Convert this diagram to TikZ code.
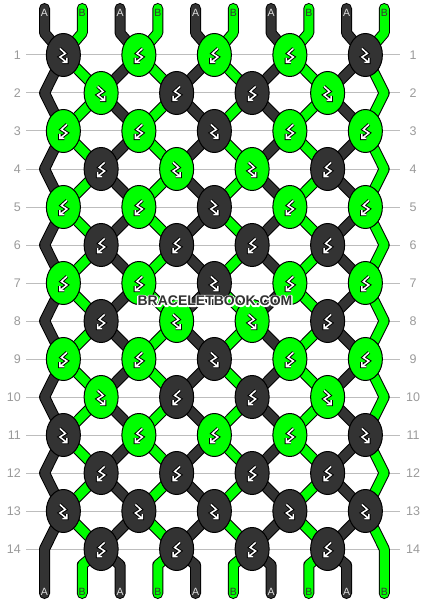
\documentclass[tikz,border=0pt]{standalone}
\usepackage{fontspec}
\setmainfont{Liberation Sans}
\usetikzlibrary{shapes.geometric}

\definecolor{strA}{HTML}{333333}
\definecolor{strB}{HTML}{00FF00}
\definecolor{rowgray}{HTML}{9A9A9A}
\definecolor{linegray}{HTML}{BDBDBD}

\pgfdeclarelayer{grid}
\pgfdeclarelayer{strands}
\pgfsetlayers{grid,strands,main}

% white outline behind a text
\newcommand{\haloed}[1]{\rlap{\special{pdf:code q 1 1 1 RG 2.6 w 1 j 1 Tr}#1\special{pdf:code Q}}#1}

\tikzset{
  knot/.style={ellipse, draw=black, line width=1pt, minimum width=34pt, minimum height=43pt, inner sep=0pt},
  knotA/.style={knot, fill=strA},
  knotB/.style={knot, fill=strB},
  strand/.style={line width=1pt, draw=black, double distance=9pt, line cap=round, line join=round},
  strandA/.style={strand, double=strA},
  strandB/.style={strand, double=strB},
  rowline/.style={draw=linegray, line width=1pt},
  rowlabel/.style={text=rowgray, font=\fontsize{12.5}{13}\selectfont, inner sep=0pt},
  endlabel/.style={font=\fontsize{10.5}{11}\selectfont, inner sep=0pt},
  endA/.style={endlabel, text=white!88!black},
  endB/.style={endlabel, text=strA},
  glyphout/.style={line width=3.4pt, draw=black, line cap=square, line join=miter},
  glyphin/.style={line width=1.5pt, draw=white, line cap=butt, line join=miter},
  fb/.pic={
    \foreach \s in {glyphout,glyphin}
      \draw[\s] (-3.5,-6.5) -- (2,-1.5) -- (-3.5,2) -- (3.5,7.5) (3.5,3) -- (3.5,7.5) -- (-1,7.5);
  },
  % forward-back in odd rows for A, in even rows for B
  markA1/.style={},
  markB0/.style={},
  markA0/.style={xscale=-1},
  markB1/.style={xscale=-1}
}

\begin{document}
\begin{tikzpicture}[x=1pt,y=-1pt]
  \useasboundingbox (0,0) rectangle (430,604);

  % knots
  \foreach \r/\cols in {1/{A,B,B,B,A},2/{B,A,A,B},3/{B,B,A,B,B},4/{A,B,B,A},
      5/{B,B,A,B,B},6/{A,A,A,A},7/{B,B,A,B,B},8/{A,B,B,A},9/{B,B,A,B,B},
      10/{B,A,A,B},11/{A,B,B,B,A},12/{A,A,A,A},13/{A,A,A,A,A},14/{A,A,A,A}}{
    \pgfmathsetmacro{\y}{55+38*(\r-1)}
    \pgfmathtruncatemacro{\odd}{mod(\r,2)}
    \foreach \c [count=\k] in \cols {
      \pgfmathsetmacro{\x}{44.5+37.75*(2*\k-0.5-\odd)}
      \node[knot\c] (K\r-\k) at (\x,\y) {};
      \pic[mark\c\odd] at (K\r-\k) {fb};
    }
  }

  % row numbers and rules
  \begin{pgfonlayer}{grid}
  \foreach \r in {1,...,14}{
    \pgfmathsetmacro{\y}{55+38*(\r-1)}
    \draw[rowline] (26,\y) -- (400,\y);
    \node[rowlabel, anchor=east] (L\r) at (21,\y) {\r};
    \node[rowlabel] (R\r) at (413,\y) {\r};
  }
  \end{pgfonlayer}

  % where each string passes in each row
  \foreach \r in {1,...,14}{
    \pgfmathsetmacro{\y}{55+38*(\r-1)}
    \pgfmathtruncatemacro{\odd}{mod(\r,2)}
    \foreach \p in {1,...,10}{
      \pgfmathtruncatemacro{\k}{\odd==1 ? ceil(\p/2) : floor(\p/2)}
      \pgfmathtruncatemacro{\free}{(\odd==0) && ((\p==1) || (\p==10))}
      \ifnum\free=1
        \coordinate (P\r-\p) at ({44.5+37.75*(\p-1)},\y);
      \else
        \coordinate (P\r-\p) at (K\r-\k.center);
      \fi
    }
  }

  % strings
  \begin{pgfonlayer}{strands}
  \foreach \p in {1,...,10}{
    \pgfmathsetmacro{\x}{44.5+37.75*(\p-1)}
    \ifodd\p \def\S{A}\else \def\S{B}\fi
    \coordinate (T\p) at (\x,8.5);
    \coordinate (U\p) at (\x,33);
    \coordinate (D\p) at (\x,565);
    \coordinate (E\p) at (\x,593.5);
    \draw[strand\S] (T\p) -- (U\p) \foreach \r in {1,...,14}{ -- (P\r-\p)} -- (D\p) -- (E\p);
    \node[end\S] (top\p) at (\x,12.5) {\S};
    \node[end\S] (bot\p) at (\x,592) {\S};
  }
  \end{pgfonlayer}

  % watermark
  \node[text=strA, font=\bfseries\fontsize{14}{14}\selectfont] (brand) at (215,301) {\haloed{BRACELETBOOK.COM}};
\end{tikzpicture}
\end{document}
